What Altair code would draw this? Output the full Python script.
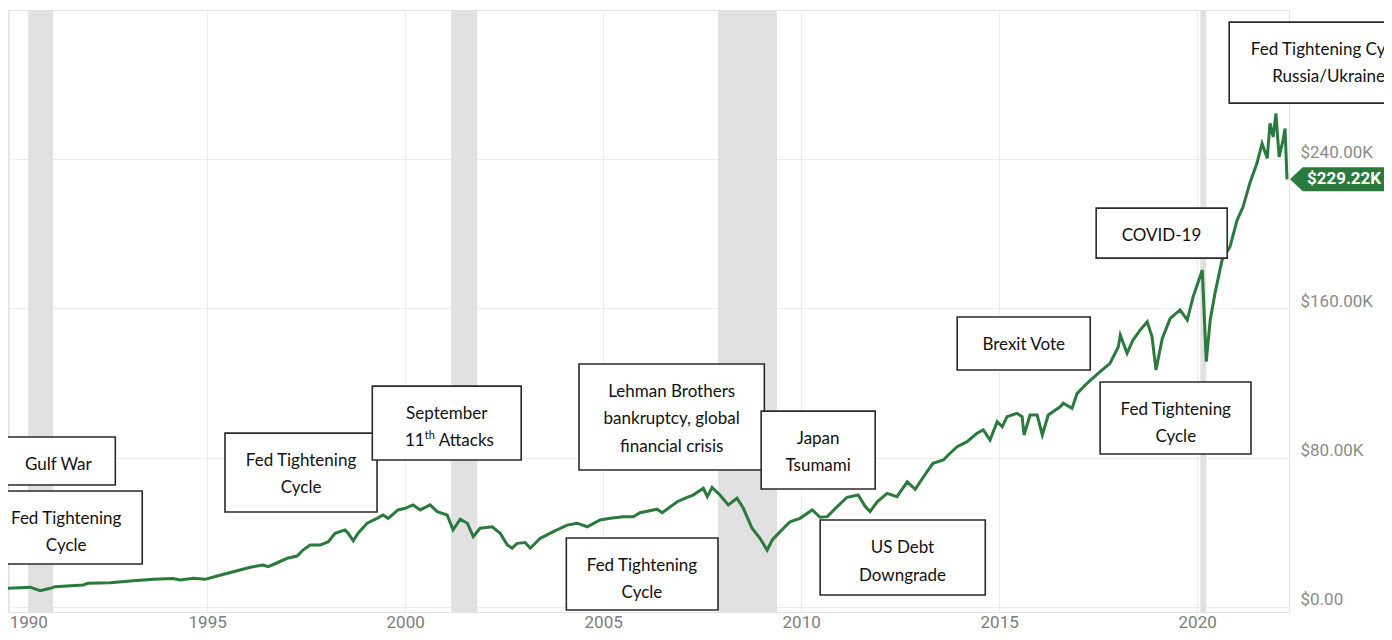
import altair as alt
import pandas as pd

# ---------------- data ----------------
years = [1989.97, 1990.28, 1990.53, 1990.78, 1991.04, 1991.16, 1991.46, 1991.87, 1991.99, 1992.55,
         1993.13, 1993.64, 1994.14, 1994.32, 1994.65, 1994.95, 1995.25, 1995.66, 1996.09, 1996.41,
         1996.54, 1996.77, 1997.02, 1997.27, 1997.42, 1997.60, 1997.85, 1998.06, 1998.23, 1998.48,
         1998.56, 1998.69, 1998.81, 1999.04, 1999.29, 1999.44, 1999.57, 1999.82, 2000.00, 2000.20,
         2000.38, 2000.63, 2000.81, 2001.06, 2001.21, 2001.39, 2001.57, 2001.72, 2001.89, 2002.20,
         2002.40, 2002.58, 2002.70, 2002.83, 2003.03, 2003.16, 2003.41, 2003.74, 2004.09, 2004.34,
         2004.60, 2004.92, 2005.18, 2005.51, 2005.76, 2005.93, 2006.36, 2006.49, 2006.87, 2007.12,
         2007.27, 2007.53, 2007.63, 2007.75, 2007.95, 2008.16, 2008.38, 2008.54, 2008.76, 2008.96,
         2009.14, 2009.27, 2009.47, 2009.72, 2009.97, 2010.28, 2010.48, 2010.66, 2010.91, 2011.16,
         2011.44, 2011.62, 2011.74, 2011.92, 2012.17, 2012.42, 2012.68, 2012.88, 2013.18, 2013.33,
         2013.59, 2013.76, 2013.94, 2014.19, 2014.44, 2014.60, 2014.77, 2014.95, 2015.08, 2015.20,
         2015.45, 2015.58, 2015.63, 2015.78, 2015.96, 2016.09, 2016.24, 2016.54, 2016.62, 2016.84,
         2016.97, 2017.22, 2017.55, 2017.80, 2018.01, 2018.06, 2018.23, 2018.38, 2018.56, 2018.74,
         2018.86, 2018.96, 2019.12, 2019.32, 2019.57, 2019.75, 2019.90, 2020.13, 2020.23, 2020.33,
         2020.45, 2020.63, 2020.83, 2021.01, 2021.16, 2021.33, 2021.51, 2021.64, 2021.77, 2021.84,
         2021.92, 2021.99, 2022.07, 2022.17, 2022.22, 2022.27]

# values in thousands of dollars
values = [10.0, 10.3, 10.6, 8.7, 10.0, 10.9, 11.3, 11.8, 12.7, 13.0,
          14.1, 14.8, 15.2, 14.5, 15.4, 14.8, 16.6, 18.9, 21.3, 22.5,
          21.6, 23.7, 26.1, 27.3, 30.5, 33.2, 33.2, 35.0, 39.5, 41.3,
          39.5, 35.5, 39.5, 44.9, 47.5, 49.3, 47.5, 52.0, 52.9, 54.7,
          52.0, 54.7, 51.1, 49.3, 41.3, 47.0, 44.9, 37.7, 42.2, 43.0,
          39.5, 33.2, 31.5, 34.1, 34.5, 31.5, 36.8, 40.4, 43.9, 44.9,
          43.0, 46.6, 47.5, 48.4, 48.4, 50.5, 52.4, 50.5, 56.4, 58.8,
          60.0, 63.6, 59.1, 64.1, 60.0, 54.7, 58.3, 52.9, 42.2, 36.8,
          30.5, 35.9, 40.4, 45.7, 47.5, 52.0, 48.1, 48.4, 53.8, 58.8,
          60.0, 53.8, 51.1, 56.4, 60.9, 59.1, 67.1, 63.1, 72.5, 77.0,
          78.8, 82.4, 85.9, 88.6, 93.1, 94.9, 89.5, 99.3, 96.6, 102.0,
          103.8, 102.0, 92.2, 102.9, 102.9, 92.2, 102.9, 107.3, 109.2, 106.5,
          114.5, 119.9, 126.1, 130.6, 139.5, 145.8, 136.0, 143.1, 148.4, 152.9,
          144.9, 127.1, 144.0, 154.7, 159.2, 153.8, 166.3, 180.6, 131.5, 153.8,
          168.1, 186.0, 193.1, 207.4, 214.5, 227.1, 237.8, 248.5, 240.5, 259.2,
          252.0, 264.6, 241.3, 250.3, 256.5, 229.22]

rec_start = [1990.48, 2001.16, 2007.90, 2020.08]
rec_end = [1991.11, 2001.82, 2009.39, 2020.23]

x_ticks = [1990, 1995, 2000, 2005, 2010, 2015, 2020]
y_ticks = [0, 80, 160, 240]

# annotation texts
ann_lines = [
    ["Gulf War"],
    ["Fed Tightening", "Cycle"],
    ["Fed Tightening", "Cycle"],
    ["September"],
    ["Lehman Brothers", "bankruptcy, global", "financial crisis"],
    ["Japan", "Tsumami"],
    ["Fed Tightening", "Cycle"],
    ["US Debt", "Downgrade"],
    ["Brexit Vote"],
    ["COVID-19"],
    ["Fed Tightening", "Cycle"],
    ["Fed Tightening Cycle", "Russia/Ukraine"],
]

# annotation placement (data units: year / $K)
ann_box = [  # x0, x1, y0, y1
    (1989.77, 1992.68, 65.4, 91.1),
    (1989.77, 1993.36, 23.0, 62.2),
    (1995.45, 1999.29, 50.9, 93.2),
    (1999.17, 2002.93, 78.8, 118.4),
    (2004.39, 2009.07, 73.4, 130.2),
    (2008.99, 2011.87, 63.2, 105.0),
    (2004.07, 2007.90, -1.6, 37.0),
    (2010.48, 2014.65, 6.4, 46.6),
    (2013.94, 2017.30, 127.0, 155.4),
    (2017.45, 2020.76, 187.0, 213.8),
    (2017.55, 2021.36, 82.0, 120.6),
    (2020.81, 2025.50, 270.1, 313.5),
]
ann_text_x = [1991.24, 1991.44, 1997.37, 2001.05, 2006.73, 2010.43, 2005.98, 2012.56,
              2015.62, 2019.10, 2019.46, 2023.32]
ann_text_y = [[76.1], [47.2, 32.7], [78.2, 63.8], [103.4], [115.2, 100.8, 85.7], [90.0, 75.6],
              [22.0, 7.5], [31.6, 16.6], [140.4], [198.8], [105.6, 91.1], [298.5, 284.0]]
sept_line2_y = 89.0

# ---------------- frames ----------------
line_df = pd.DataFrame({"year": years, "value": values})
rec_df = pd.DataFrame({"start": rec_start, "end": rec_end})
box_df = pd.DataFrame(ann_box, columns=["x0", "x1", "y0", "y1"])
txt_rows = []
for lines, tx, tys in zip(ann_lines, ann_text_x, ann_text_y):
    for t, ty in zip(lines, tys):
        txt_rows.append({"tx": tx, "ty": ty, "text": t})
txt_df = pd.DataFrame(txt_rows)
last_df = pd.DataFrame({"value": [values[-1]], "label": ["$%.2fK" % values[-1]]})
sept_df = pd.DataFrame({"tx": [ann_text_x[3]], "ty": [sept_line2_y]})

W, H = 1281, 602
xs = alt.Scale(domain=[1989.97, 2022.32], nice=False, zero=False)
ys = alt.Scale(domain=[-2.7, 320], nice=False, zero=False)

x_axis = alt.Axis(values=x_ticks, format="d", title=None, domain=False, ticks=False,
                  labelPadding=2, labelFontSize=17, labelColor="#7d7d7d", labelFont="Roboto",
                  gridColor="#ececec", labelFlush=5)
y_axis = alt.Axis(orient="right", values=y_ticks, title=None, domain=False, ticks=False,
                  labelExpr="datum.value == 0 ? '$0.00' : '$' + format(datum.value, '.2f') + 'K'",
                  labelPadding=11, labelFontSize=17, labelColor="#8a8a8a", labelFont="Roboto",
                  gridColor="#ececec", labelOffset=-7, labelAlign="left")

GREEN = "#2b7a3d"

bands = alt.Chart(rec_df).mark_rect(color="#e1e1e1").encode(
    x=alt.X("start:Q", scale=xs, axis=x_axis),
    x2="end:Q",
    y=alt.value(0), y2=alt.value(H),
)

line = alt.Chart(line_df).mark_line(color=GREEN, strokeWidth=3).encode(
    x=alt.X("year:Q", scale=xs, axis=x_axis),
    y=alt.Y("value:Q", scale=ys, axis=y_axis),
)

boxes = alt.Chart(box_df).mark_rect(fill="white", stroke="#2a2a2a", strokeWidth=1.6).encode(
    x=alt.X("x0:Q", scale=xs, axis=x_axis), x2="x1:Q",
    y=alt.Y("y0:Q", scale=ys, axis=y_axis), y2="y1:Q",
)

texts = alt.Chart(txt_df).mark_text(font="Lato", fontSize=17, color="#111111",
                                    align="center", baseline="middle").encode(
    x=alt.X("tx:Q", scale=xs, axis=x_axis),
    y=alt.Y("ty:Q", scale=ys, axis=y_axis),
    text="text:N",
)

enc = dict(x=alt.X("tx:Q", scale=xs, axis=x_axis), y=alt.Y("ty:Q", scale=ys, axis=y_axis))
s11 = alt.Chart(sept_df).mark_text(text="11", font="Lato", fontSize=17, color="#111111",
                                   align="right", baseline="middle", dx=-22).encode(**enc)
sth = alt.Chart(sept_df).mark_text(text="th", font="Lato", fontSize=11, color="#111111",
                                   align="left", baseline="middle", dx=-22, dy=-5).encode(**enc)
satt = alt.Chart(sept_df).mark_text(text="Attacks", font="Lato", fontSize=17, color="#111111",
                                    align="left", baseline="middle", dx=-8).encode(**enc)

tag_path = "M-1,0 L-0.75,-0.235 L1,-0.235 L1,0.235 L-0.75,0.235 Z"
tag = alt.Chart(last_df).mark_point(shape=tag_path, size=10404, filled=True, color=GREEN,
                                    opacity=1, strokeWidth=0).encode(
    x=alt.value(1333),
    y=alt.Y("value:Q", scale=ys, axis=y_axis),
)
tag_text = alt.Chart(last_df).mark_text(font="Roboto", fontWeight="bold", fontSize=17,
                                        color="white", align="center", baseline="middle").encode(
    x=alt.value(1336),
    y=alt.Y("value:Q", scale=ys, axis=y_axis),
    text="label:N",
)

chart = alt.layer(bands, line, boxes, texts, s11, sth, satt, tag, tag_text).properties(
    width=W, height=H,
    autosize=alt.AutoSizeParams(type="none"),
    padding={"left": 0, "top": 2, "right": 95, "bottom": 20},
).configure_view(stroke="#e2e2e2", strokeWidth=1)

chart.save("out.html", embed_options={"renderer": "svg", "actions": False})
